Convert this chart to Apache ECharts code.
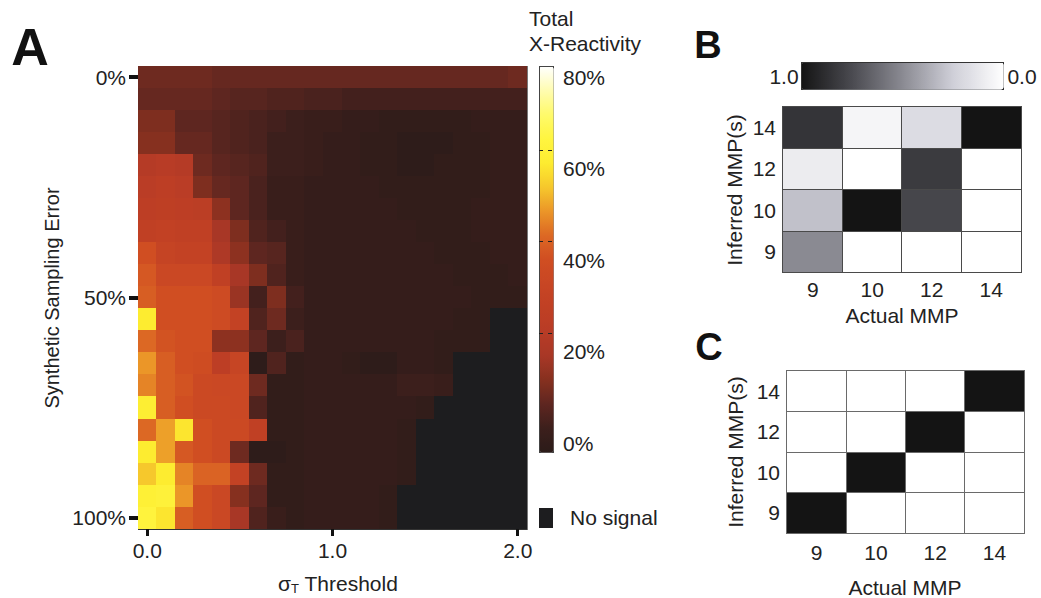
<!DOCTYPE html>
<html>
<head>
<meta charset="utf-8">
<script src="https://cdn.jsdelivr.net/npm/echarts@6/dist/echarts.min.js"></script>
<style>
  html, body { margin: 0; padding: 0; background: #ffffff; }
  #chart { width: 1041px; height: 598px; }
  /* keep neighbouring heatmap cells flush, without anti-aliased seams */
  #chart svg path, #chart svg rect { shape-rendering: crispEdges; }
</style>
</head>
<body>
<div id="chart"></div>
<script>
// ---- Panel A: total cross-reactivity (%) vs sigma threshold and sampling error ----
const sigmaLabels = ['0.0','0.1','0.2','0.3','0.4','0.5','0.6','0.7','0.8','0.9','1.0',
                     '1.1','1.2','1.3','1.4','1.5','1.6','1.7','1.8','1.9','2.0'];
const errorLabels = [0,5,10,15,20,25,30,35,40,45,50,55,60,65,70,75,80,85,90,95,100];
const N = null; // no signal
// one row per sampling error level, one column per sigma threshold
const xReactivity = [
  [12,12,12,12,11,11,11,11,11,11,11,11,11,11,11,11,11,11,11,11,12],
  [11,11,11,11,10, 9, 9, 8, 8, 7, 7, 6, 6, 6, 6, 6, 6, 6, 6, 6, 6],
  [14,14,10,10, 9, 8, 7, 6, 5, 4, 4, 3, 3, 2, 2, 2, 2, 2, 3, 3, 3],
  [15,15,11,11, 9, 8, 7, 5, 5, 4, 3, 3, 2, 2, 1, 1, 1, 2, 2, 3, 3],
  [24,25,24,12,10, 9, 8, 5, 5, 4, 3, 3, 2, 2, 1, 1, 2, 2, 2, 3, 3],
  [26,28,26,14,11,10, 7, 4, 4, 3, 3, 3, 3, 2, 2, 2, 2, 2, 2, 3, 3],
  [28,29,28,27,16,10, 7, 4, 4, 3, 3, 3, 3, 3, 2, 2, 2, 2, 3, 3, 3],
  [30,31,30,30,20,14, 8, 6, 4, 3, 3, 3, 3, 3, 3, 2, 2, 2, 3, 3, 3],
  [40,33,32,32,22,16,10, 9, 4, 3, 3, 3, 3, 3, 3, 3, 2, 2, 2, 3, 3],
  [42,36,36,36,30,20,14, 8, 4, 3, 3, 3, 3, 3, 3, 3, 3, 2, 2, 2, 3],
  [43,40,40,40,38,18, 6,14, 6, 3, 3, 3, 3, 3, 3, 3, 3, 3, 2, 2, 2],
  [60,40,40,40,38,32, 8,12, 5, 3, 3, 3, 3, 3, 3, 3, 3, 2, 2, N, N],
  [45,41,40,40,16,16,10, 5, 7, 3, 3, 3, 3, 3, 3, 3, 2, 2, 2, N, N],
  [50,43,40,39,28,34, 1, 8, 2, 3, 3, 2, 1, 1, 3, 3, 2, N, N, N, N],
  [48,43,41,37,36,36,12, 2, 2, 3, 3, 3, 3, 3, 5, 5, 4, N, N, N, N],
  [61,43,40,37,37,36, 8, 2, 2, 3, 3, 3, 3, 3, 3, 2, N, N, N, N, N],
  [45,51,59,40,37,37,30, 2, 2, 3, 3, 3, 3, 3, 2, N, N, N, N, N, N],
  [60,51,42,40,37,12, 1, 1, 2, 3, 3, 3, 3, 3, 2, N, N, N, N, N, N],
  [55,60,48,44,44,32,12, 2, 2, 3, 3, 3, 3, 3, 2, N, N, N, N, N, N],
  [62,63,50,40,36,15,10, 2, 2, 3, 3, 3, 3, 2, N, N, N, N, N, N, N],
  [64,59,43,40,36,20, 8, 4, 2, 3, 3, 3, 3, 2, N, N, N, N, N, N, N]
];
const reactivityTicks = ['80%','60%','40%','20%','0%'];

// ---- Panels B and C: inferred vs actual MMP ----
const mmpLabels = ['9','10','12','14'];
// rows: inferred MMP 9, 10, 12, 14; columns: actual MMP 9, 10, 12, 14
const inferredB = [
  [0.50, 0.00, 0.00, 0.00],
  [0.30, 1.00, 0.77, 0.00],
  [0.10, 0.00, 0.82, 0.00],
  [0.85, 0.05, 0.18, 1.00]
];
const inferredC = [
  [1, 0, 0, 0],
  [0, 1, 0, 0],
  [0, 0, 1, 0],
  [0, 0, 0, 1]
];

const FONT = '"Liberation Sans", Arial, Helvetica, sans-serif';
const TXT = '#222222';
const NO_SIGNAL = '#1d1d1f';
const hotColors = ['#2b1b19','#3c1f1c','#5e2620','#86301f','#a83726','#b83c26','#c04024',
                   '#c84624','#d04e22','#dc6824','#eb9628','#f6c82c','#fdec30','#fff540',
                   '#fffa6a','#fffcb0','#ffffff'];
const grayColors = ['#ffffff','#cfcfd8','#8a8a92','#4a4a50','#141414'];

const heatData = [];
const noSignalData = [];
xReactivity.forEach((row, r) => row.forEach((v, c) => {
  if (v === null) noSignalData.push([c, r, 1]);
  else heatData.push([c, r, v]);
}));
const toCells = m => {
  const out = [];
  m.forEach((row, r) => row.forEach((v, c) => out.push([c, r, v])));
  return out;
};

const labelStyle = { fontFamily: FONT, fontSize: 21, color: TXT };
const txt = (x, y, text, extra, rotation) => ({
  type: 'text', x, y, rotation: rotation || 0, silent: true,
  style: Object.assign({ text, fontFamily: FONT, fontSize: 21, fill: TXT,
                         align: 'center', verticalAlign: 'middle' }, extra || {})
});

// colour bar geometry for panel A
const BAR_TOP = 66, BAR_H = 386;
const tickY = i => BAR_TOP + 11 + i * 91.5;

const chart = echarts.init(document.getElementById('chart'), null, { renderer: 'svg' });
chart.setOption({
  animation: false,
  backgroundColor: '#ffffff',
  grid: [
    { left: 138, top: 66, width: 389, height: 463, show: true, borderColor: '#777', borderWidth: 1 },
    { left: 783, top: 107, width: 238, height: 165 },
    { left: 787, top: 371, width: 237, height: 162 }
  ],
  xAxis: [
    { gridIndex: 0, type: 'category', data: sigmaLabels,
      axisLine: { show: true, lineStyle: { color: '#333', width: 1 } },
      axisTick: { show: true, alignWithLabel: true, interval: i => i % 10 === 0,
                  length: 7, lineStyle: { color: '#111', width: 3 } },
      axisLabel: Object.assign({ interval: i => i % 10 === 0, margin: 11 }, labelStyle),
      splitLine: { show: false } },
    { gridIndex: 1, type: 'category', data: mmpLabels,
      axisLine: { show: false }, axisTick: { show: false },
      axisLabel: Object.assign({ margin: 7 }, labelStyle) },
    { gridIndex: 2, type: 'category', data: mmpLabels,
      axisLine: { show: false }, axisTick: { show: false },
      axisLabel: Object.assign({ margin: 9 }, labelStyle) }
  ],
  yAxis: [
    { gridIndex: 0, type: 'category', data: errorLabels, inverse: true,
      axisLine: { show: false },
      axisTick: { show: true, alignWithLabel: true, interval: i => i % 10 === 0,
                  length: 9, lineStyle: { color: '#111', width: 4 } },
      axisLabel: Object.assign({ interval: i => i % 10 === 0, margin: 12,
                                 formatter: v => v + '%' }, labelStyle),
      splitLine: { show: false } },
    { gridIndex: 1, type: 'category', data: mmpLabels,
      axisLine: { show: false }, axisTick: { show: false },
      axisLabel: Object.assign({ margin: 7 }, labelStyle) },
    { gridIndex: 2, type: 'category', data: mmpLabels,
      axisLine: { show: false }, axisTick: { show: false },
      axisLabel: Object.assign({ margin: 7 }, labelStyle) }
  ],
  visualMap: [
    { type: 'continuous', seriesIndex: 0, min: 0, max: 80, orient: 'vertical',
      left: 539, top: BAR_TOP, itemWidth: 14, itemHeight: BAR_H, padding: 0,
      calculable: false, hoverLink: false, showLabel: false,
      borderColor: '#444', borderWidth: 1,
      inRange: { color: hotColors } },
    { type: 'continuous', seriesIndex: [2, 3], min: 0, max: 1, orient: 'horizontal',
      inverse: true, left: 801, top: 62, itemWidth: 27, itemHeight: 202, padding: 0,
      calculable: false, hoverLink: false, showLabel: false,
      borderColor: '#333', borderWidth: 1,
      inRange: { color: grayColors } }
  ],
  legend: {
    data: ['No signal'], left: 539, top: 507, orient: 'vertical', padding: 0,
    itemWidth: 14, itemHeight: 20, icon: 'rect', selectedMode: false,
    textStyle: { fontFamily: FONT, fontSize: 21, color: TXT, padding: [0, 0, 0, 12] }
  },
  series: [
    { name: 'X-Reactivity', type: 'heatmap', xAxisIndex: 0, yAxisIndex: 0,
      data: heatData, itemStyle: { borderWidth: 0 }, emphasis: { disabled: true } },
    { name: 'No signal', type: 'heatmap', xAxisIndex: 0, yAxisIndex: 0,
      data: noSignalData, itemStyle: { color: NO_SIGNAL, borderWidth: 0 },
      emphasis: { disabled: true } },
    { name: 'B', type: 'heatmap', xAxisIndex: 1, yAxisIndex: 1, data: toCells(inferredB),
      itemStyle: { borderColor: '#4a4a4a', borderWidth: 1 }, emphasis: { disabled: true } },
    { name: 'C', type: 'heatmap', xAxisIndex: 2, yAxisIndex: 2, data: toCells(inferredC),
      itemStyle: { borderColor: '#6a6a6a', borderWidth: 1 }, emphasis: { disabled: true } }
  ],
  graphic: [
    // panel letters
    txt(30, 47, 'A', { fontSize: 52, fontWeight: 'bold', fill: '#111' }),
    txt(708, 45, 'B', { fontSize: 38, fontWeight: 'bold', fill: '#111' }),
    txt(709, 347, 'C', { fontSize: 38, fontWeight: 'bold', fill: '#111' }),
    // panel A axis titles
    txt(52, 298, 'Synthetic Sampling Error', { fontSize: 20 }, Math.PI / 2),
    txt(338, 583, '{s|σ}{t|T} Threshold', {
      rich: {
        s: { fontFamily: FONT, fontSize: 21, fill: TXT },
        t: { fontFamily: FONT, fontSize: 13, fill: TXT, padding: [10, 0, 0, 0] }
      }
    }),
    // colour bar title, labels and guide dashes
    txt(529, 18, 'Total', { align: 'left' }),
    txt(529, 43, 'X-Reactivity', { align: 'left' }),
    ...reactivityTicks.map((t, i) => txt(563, tickY(i), t, { align: 'left' })),
    ...[0, 1, 2].map(i => ({
      type: 'line', silent: true, z: 20,
      shape: { x1: 539, y1: tickY(i) + 73, x2: 553, y2: tickY(i) + 73 },
      style: { stroke: '#222', lineWidth: 1, lineDash: [4, 5] }
    })),
    // panel B scale labels and axis titles
    txt(784, 76, '1.0'),
    txt(1022, 76, '0.0'),
    txt(734, 190, 'Inferred MMP(s)', null, Math.PI / 2),
    txt(902, 315, 'Actual MMP'),
    // panel C axis titles
    txt(735, 452, 'Inferred MMP(s)', null, Math.PI / 2),
    txt(905, 587, 'Actual MMP')
  ]
});
</script>
</body>
</html>
